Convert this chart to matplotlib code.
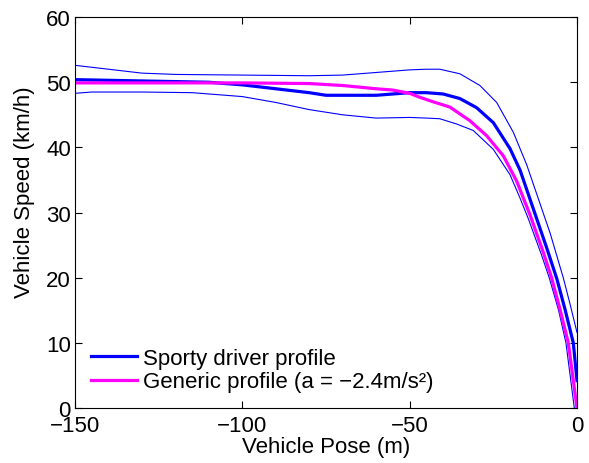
import matplotlib
matplotlib.use('Agg')
import matplotlib.pyplot as plt

plt.rcParams['font.family'] = ['Liberation Sans', 'DejaVu Sans']

# Sporty driver profile (mean)
sporty_x = [-150, -140, -130, -120, -110, -100, -90, -80, -75, -70, -60, -55, -50, -45, -40,
            -35, -30, -25, -20, -17, -15, -12, -9, -6, -3.5, -1.1, 0]
sporty_y = [50.4, 50.3, 50.2, 50.1, 50.0, 49.6, 49.0, 48.4, 48.0, 48.0, 48.0, 48.2, 48.4, 48.4, 48.2,
            47.5, 46.1, 43.8, 39.8, 36.5, 33.5, 29.0, 24.5, 19.8, 15.0, 10.0, 4.2]

# Upper / lower envelope of the sporty profile
upper_x = [-150, -140, -130, -120, -100, -80, -70, -60, -50, -45, -41, -35, -29, -24, -19,
           -15, -11.6, -8, -4.1, -2, 0]
upper_y = [52.6, 52.0, 51.4, 51.2, 51.1, 51.0, 51.1, 51.5, 51.9, 52.0, 52.0, 51.3, 49.5, 46.9, 42.3,
           37.3, 32.2, 26.8, 20.0, 15.8, 11.6]
lower_x = [-150, -145, -130, -115, -100, -90, -80, -70, -60, -50, -45, -41, -36, -31, -25,
           -20, -17, -14.5, -10.6, -8.3, -5.5, -3.3, -0.8]
lower_y = [48.3, 48.5, 48.5, 48.4, 47.8, 46.9, 45.8, 45.0, 44.5, 44.6, 44.5, 44.4, 43.6, 42.6, 39.7,
           35.8, 32.2, 29.0, 23.5, 20.0, 15.0, 10.0, 0.0]

# Generic profile (a = -2.4 m/s^2)
generic_x = [-150, -120, -100, -80, -70, -60, -55, -50, -47, -43, -38, -32, -27, -22, -18,
             -16, -14, -10, -7.6, -5, -2.6, 0]
generic_y = [49.9, 49.9, 49.9, 49.8, 49.5, 49.0, 48.8, 48.3, 47.7, 47.0, 46.2, 44.1, 41.8, 38.7, 34.8,
             32.2, 29.6, 23.8, 20.0, 15.0, 10.0, 0.0]

fig = plt.figure(figsize=(5.89, 4.64), dpi=100)
ax = fig.add_axes([0.1273, 0.1185, 0.8523, 0.8425])

ax.plot(upper_x, upper_y, color='#0000ff', lw=0.8)
ax.plot(lower_x, lower_y, color='#0000ff', lw=0.8)
ax.plot(sporty_x, sporty_y, color='#0000ff', lw=2.3, label='Sporty driver profile')
ax.plot(generic_x, generic_y, color='#ff00ff', lw=2.3, label='Generic profile (a = \u22122.4m/s\u00b2)')

ax.set_xlim(-150, 0)
ax.set_ylim(0, 60)
ax.set_xticks([-150, -100, -50, 0])
ax.set_xticklabels(['\u2212150', '\u2212100', '\u221250', '0'])
ax.set_yticks(range(0, 61, 10))
ax.tick_params(direction='in', top=True, right=True, labelsize=16, length=5, width=0.8)
ax.tick_params(axis='x', pad=5)
ax.tick_params(axis='y', pad=3)
for s in ax.spines.values():
    s.set_linewidth(0.8)

ax.set_xlabel('Vehicle Pose (m)', fontsize=16, labelpad=0)
ax.set_ylabel('Vehicle Speed (km/h)', fontsize=16)
ax.yaxis.set_label_coords(-0.08, 0.555)

ax.legend(loc='lower left', frameon=False, fontsize=16,
          handlelength=2.07, handletextpad=0.3, labelspacing=0.1, borderaxespad=0.3)

fig.savefig('out.png', dpi=100)
